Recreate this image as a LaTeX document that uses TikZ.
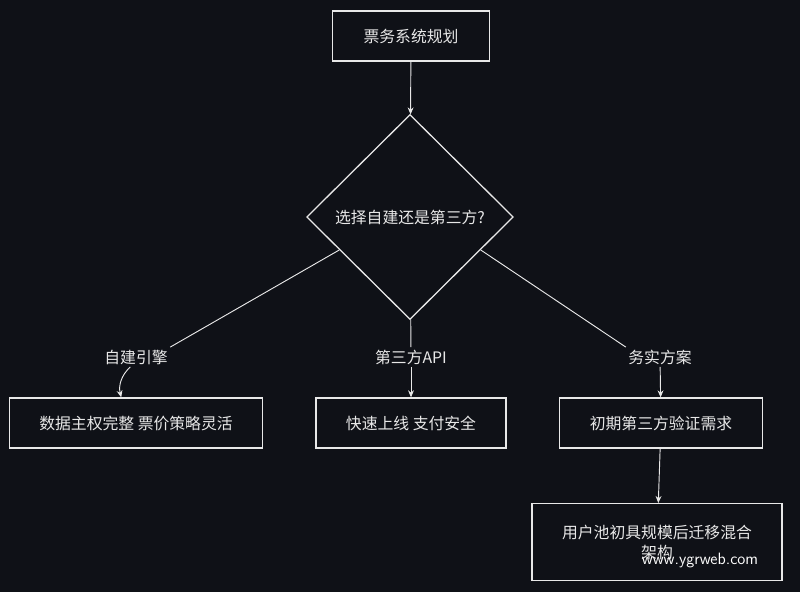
\documentclass[tikz,border=0pt]{standalone}
\usepackage{fontspec}
\setmainfont{Noto Sans CJK SC}
\usetikzlibrary{arrows.meta,positioning,shapes.geometric}

\definecolor{bgdark}{HTML}{0F1117}
\definecolor{inkwhite}{HTML}{E8E8E8}

\tikzset{
  box/.style={draw=inkwhite, line width=1.1pt, text=inkwhite, minimum height=1.5cm,
    inner sep=2pt, font=\fontsize{13.5}{17}\selectfont},
  choice/.style={draw=inkwhite, line width=1.1pt, diamond, text=inkwhite,
    minimum width=6.2cm, minimum height=6.15cm, inner sep=0pt, font=\fontsize{13.5}{17}\selectfont},
  lbl/.style={text=inkwhite, fill=bgdark, inner sep=2pt, font=\fontsize{13.5}{17}\selectfont},
  link/.style={draw=inkwhite, line width=0.8pt},
  arr/.style={link, -{Stealth[length=6pt,width=5pt]}}
}

\begin{document}
\begin{tikzpicture}[x=0.03cm,y=-0.03cm]
  \fill[bgdark] (0,0) rectangle (800,592);

  % top and decision
  \node[box, minimum width=4.7cm] (plan) at (411,36) {票务系统规划};
  \node[choice] (pick) at (410,217) {选择自建还是第三方?};

  % three branches
  \node[box, minimum width=7.6cm] (self)  at (136,423) {数据主权完整 票价策略灵活};
  \node[box, minimum width=5.7cm] (third) at (411,423) {快速上线 支付安全};
  \node[box, minimum width=6.1cm] (mix)   at (661,423) {初期第三方验证需求};
  \node[box, minimum width=7.5cm, minimum height=2.3cm, align=center] (later) at (657,542)
       {用户池初具规模后迁移混合\\架构};

  % labels on the branches
  \node[lbl] (lself)  at (136,357) {自建引擎};
  \node[lbl] (lthird) at (411,357) {第三方API};
  \node[lbl] (lmix)   at (660,357) {务实方案};

  % connectors
  \draw[arr] (plan) -- (pick);
  \draw[link] (pick.205) -- (lself.north east);
  \draw[arr] (lself) to[bend right=30] (self);
  \draw[link] (pick) -- (lthird);
  \draw[arr] (lthird) -- (third);
  \draw[link] (pick.335) -- (lmix.north west);
  \draw[arr] (lmix) -- (mix);
  \draw[arr] (mix) -- (later);

  \node[text=white, font=\fontsize{14}{17}\selectfont\sffamily] (mark) at (700,560) {www.ygrweb.com};
\end{tikzpicture}
\end{document}
